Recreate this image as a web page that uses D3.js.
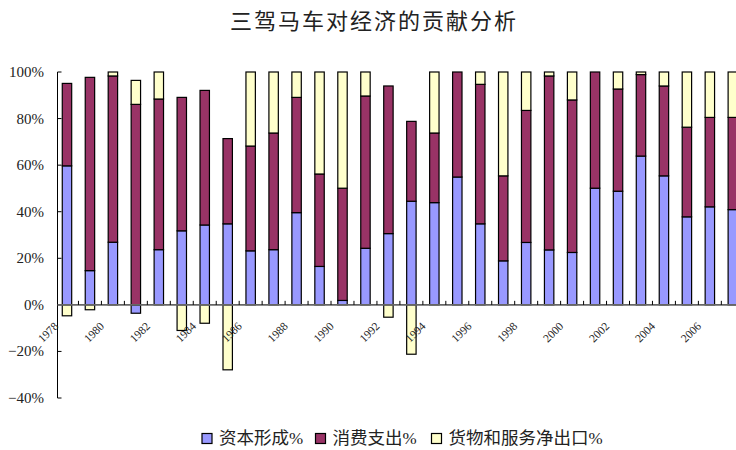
<!DOCTYPE html>
<html>
<head>
<meta charset="utf-8">
<script src="https://cdn.jsdelivr.net/npm/d3@7/dist/d3.min.js"></script>
<style>
  html, body { margin: 0; padding: 0; background: #fff; }
  svg { display: block; }
</style>
</head>
<body>
<svg id="chart" width="736" height="450"></svg>
<script>
// Contribution of the three demand components to GDP growth, 1978–2007 (%)
const years = d3.range(1978, 2008);
const capital = [59.7, 14.7, 26.9, -3.6, 23.7, 31.8, 34.3, 34.8, 23.2, 23.7,
                 39.6, 16.5, 1.9, 24.3, 30.6, 44.5, 43.9, 54.9, 34.8, 18.9,
                 26.8, 23.6, 22.5, 50.1, 48.8, 63.9, 55.4, 37.8, 42.1, 40.9];
const consumption = [35.4, 83.0, 71.4, 86.1, 64.7, 57.3, 57.8, 36.6, 45.0, 50.1,
                     49.5, 39.7, 48.2, 65.4, 63.4, 34.3, 29.9, 45.1, 59.9, 36.5,
                     56.7, 74.7, 65.5, 49.9, 43.9, 35.0, 38.6, 38.5, 38.4, 39.6];
const netExports = [-4.7, -2.1, 1.7, 10.3, 11.6, -11.0, -7.9, -27.9, 31.8, 26.2,
                    10.9, 43.8, 49.9, 10.3, -5.3, -21.2, 26.2, 0.0, 5.3, 44.6,
                    16.5, 1.7, 12.0, 0.0, 7.3, 1.1, 6.0, 23.7, 19.5, 19.5];
const seriesNames = ["资本形成", "消费支出", "货物和服务净出口"];
const seriesColors = ["#9999FF", "#993366", "#FFFFCC"];
const yTicks = [-40, -20, 0, 20, 40, 60, 80, 100];
const xLabelYears = d3.range(1978, 2008, 2);

const rows = years.map((y, i) => ({
  year: y,
  [seriesNames[0]]: capital[i],
  [seriesNames[1]]: consumption[i],
  [seriesNames[2]]: netExports[i]
}));

const svg = d3.select("#chart");
const serif = "'Liberation Serif', 'DejaVu Serif', serif";
const cjk = "'Noto Sans CJK SC', sans-serif";

const x = d3.scaleBand()
  .domain(years)
  .range([55.5, 744.3])
  .paddingInner(0.59)
  .paddingOuter(0.295);

const y = d3.scaleLinear()
  .domain([-40, 100])
  .range([398, 72]);

const stacked = d3.stack()
  .keys(seriesNames)
  .offset(d3.stackOffsetDiverging)(rows);

// Title
svg.append("text")
  .attr("x", 374)
  .attr("y", 29)
  .attr("text-anchor", "middle")
  .attr("font-family", cjk)
  .attr("font-size", 22)
  .attr("letter-spacing", 2)
  .attr("fill", "#222")
  .text("三驾马车对经济的贡献分析");

// Bars
const layers = svg.append("g").selectAll("g")
  .data(stacked)
  .join("g")
  .attr("fill", (d, i) => seriesColors[i]);

layers.selectAll("rect")
  .data(d => d)
  .join("rect")
  .attr("x", d => x(d.data.year))
  .attr("width", x.bandwidth())
  .attr("y", d => y(Math.max(d[0], d[1])))
  .attr("height", d => Math.abs(y(d[0]) - y(d[1])))
  .attr("stroke", "#000")
  .attr("stroke-width", 1.2);

// Y axis
const yAxisX = 57.5;
svg.append("line")
  .attr("x1", yAxisX).attr("x2", yAxisX)
  .attr("y1", y(100)).attr("y2", y(-40))
  .attr("stroke", "#000").attr("stroke-width", 1);

const yt = svg.append("g").selectAll("g")
  .data(yTicks)
  .join("g");
yt.append("line")
  .attr("x1", yAxisX).attr("x2", yAxisX + 4)
  .attr("y1", d => y(d)).attr("y2", d => y(d))
  .attr("stroke", "#000");
yt.append("text")
  .attr("x", 44)
  .attr("y", d => y(d) + 5)
  .attr("text-anchor", "end")
  .attr("font-family", serif)
  .attr("font-size", 15)
  .attr("fill", "#222")
  .text(d => (d < 0 ? "\u2212" + Math.abs(d) : d) + "%");

// X axis at zero
const y0 = y(0);
svg.append("line")
  .attr("x1", yAxisX).attr("x2", 736)
  .attr("y1", y0).attr("y2", y0)
  .attr("stroke", "#666").attr("stroke-width", 1.6);

const step = x.step();
const start = x.range()[0];
svg.append("g").selectAll("line")
  .data(d3.range(1, years.length + 1))
  .join("line")
  .attr("x1", i => start + i * step).attr("x2", i => start + i * step)
  .attr("y1", y0 - 4).attr("y2", y0)
  .attr("stroke", "#000");

svg.append("g").selectAll("text")
  .data(xLabelYears)
  .join("text")
  .attr("transform", d => `translate(${x(d) + x.bandwidth() / 2 - 8},${y0 + 22}) rotate(-45)`)
  .attr("text-anchor", "end")
  .attr("font-family", serif)
  .attr("font-size", 11.5)
  .attr("fill", "#222")
  .text(d => d);

// Legend
const legendX = [202, 315.5, 431.5];
const legend = svg.append("g").selectAll("g")
  .data(seriesNames)
  .join("g")
  .attr("transform", (d, i) => `translate(${legendX[i]},433.5)`);
legend.append("rect")
  .attr("width", 10).attr("height", 10)
  .attr("fill", (d, i) => seriesColors[i])
  .attr("stroke", "#000").attr("stroke-width", 1.2);
const lt = legend.append("text")
  .attr("x", 17)
  .attr("y", 10.5)
  .attr("font-family", cjk)
  .attr("font-size", 17.5)
  .attr("fill", "#222");
lt.append("tspan").text(d => d);
lt.append("tspan")
  .attr("font-family", serif)
  .attr("font-size", 17)
  .text("%");
</script>
</body>
</html>
